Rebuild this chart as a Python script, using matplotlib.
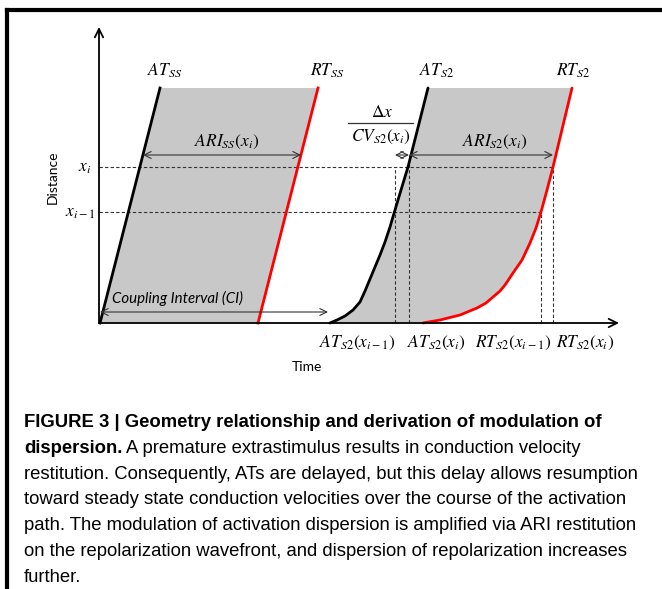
import numpy as np
import matplotlib.pyplot as plt
from matplotlib.lines import Line2D

# Diagram values (time, distance)
dist_ss = [0, 235]
at_ss = [1, 61]
rt_ss = [159, 219]

at_s2_time = [231, 238, 246, 254, 261, 266, 271, 276, 281, 286, 291, 296, 302, 309, 329]
at_s2_dist = [0, 3, 7, 13, 21, 32, 44, 56, 68, 81, 96, 113, 133, 156, 235]
rt_s2_time = [324, 341, 361, 378, 387, 394, 401, 406, 414, 423, 431, 437, 442,
              448, 454, 473]
rt_s2_dist = [0, 3, 8, 15, 20, 26, 32, 38, 50, 63, 80, 95, 111, 133, 156, 235]

x_i = 156
x_im1 = 111
ari_level = 168
ari_ss = [44, 202]
ari_s2 = [310, 454]
dx_cv = [296, 310]
ci = [1, 229]
ci_level = 11

# vertical guide lines: (time, top distance)
guides = [(296, x_i), (310, ari_level), (442, x_im1), (454, x_i)]

bottom_labels = [r'$AT_{S2}(x_{i-1})$', r'$AT_{S2}(x_i)$',
                 r'$RT_{S2}(x_{i-1})$', r'$RT_{S2}(x_i)$']
bottom_pos = [258, 337, 414, 486]

top_labels = [r'$AT_{SS}$', r'$RT_{SS}$', r'$AT_{S2}$', r'$RT_{S2}$']
top_pos = [66, 228, 338, 474]

caption = [
    "FIGURE 3 | Geometry relationship and derivation of modulation of",
    "A premature extrastimulus results in conduction velocity",
    "restitution. Consequently, ATs are delayed, but this delay allows resumption",
    "toward steady state conduction velocities over the course of the activation",
    "path. The modulation of activation dispersion is amplified via ARI restitution",
    "on the repolarization wavefront, and dispersion of repolarization increases",
    "further.",
]

plt.rcParams['mathtext.fontset'] = 'stix'

W, H = 662, 589
fig = plt.figure(figsize=(W / 100, H / 100), dpi=100)
ax = fig.add_axes([0, 0, 1, 1])
ox, oy = 99, 323
ax.set_xlim(-ox, W - ox)
ax.set_ylim(oy - H, oy)
ax.axis('off')

gray = '#c8c8c8'
dash = '#333333'

# shaded action potential regions
ax.fill(at_ss + rt_ss[::-1], dist_ss + dist_ss[::-1], color=gray, lw=0, zorder=1)
ax.fill(at_s2_time + rt_s2_time[::-1], at_s2_dist + rt_s2_dist[::-1],
        color=gray, lw=0, zorder=1)

# dashed guides
for lvl, end in [(x_i, 454), (x_im1, 442)]:
    ax.plot([0, end], [lvl, lvl], ls=(0, (3, 2)), color=dash, lw=0.8, zorder=2)
for t, top in guides:
    ax.plot([t, t], [0, top], ls=(0, (3, 2)), color=dash, lw=0.8, zorder=2)

# wavefronts
ax.plot(at_ss, dist_ss, color='black', lw=2, zorder=3)
ax.plot(rt_ss, dist_ss, color='red', lw=2, zorder=3)
ax.plot(at_s2_time, at_s2_dist, color='black', lw=2, zorder=3,
        solid_capstyle='round', solid_joinstyle='round')
ax.plot(rt_s2_time, rt_s2_dist, color='red', lw=2, zorder=3,
        solid_capstyle='round', solid_joinstyle='round')

# axes with arrows
axis_arrow = dict(arrowstyle='->,head_length=0.6,head_width=0.3', color='black',
                  lw=1.3, shrinkA=0, shrinkB=0)
ax.annotate('', xy=(0, 296), xytext=(0, 0), arrowprops=axis_arrow, zorder=4)
ax.annotate('', xy=(520, 0), xytext=(0, 0), arrowprops=axis_arrow, zorder=4)

# dimension arrows
dim_arrow = dict(arrowstyle='<->,head_length=0.5,head_width=0.25', color=dash,
                 lw=0.8, shrinkA=0, shrinkB=0)
ax.annotate('', xy=(ari_ss[1], ari_level), xytext=(ari_ss[0], ari_level),
            arrowprops=dim_arrow, zorder=4)
ax.annotate('', xy=(ari_s2[1], ari_level), xytext=(ari_s2[0], ari_level),
            arrowprops=dim_arrow, zorder=4)
ax.annotate('', xy=(dx_cv[1], ari_level), xytext=(dx_cv[0], ari_level),
            arrowprops=dim_arrow, zorder=4)
ax.annotate('', xy=(ci[1], ci_level), xytext=(ci[0], ci_level),
            arrowprops=dim_arrow, zorder=4)

# math labels
for lab, t in zip(top_labels, top_pos):
    ax.text(t, 252, lab, fontsize=12.5, ha='center', va='center')
for lab, t in zip(bottom_labels, bottom_pos):
    ax.text(t, -20, lab, fontsize=12.5, ha='center', va='center')
ax.text(128, 181, r'$ARI_{SS}(x_i)$', fontsize=12.5, ha='center', va='center')
ax.text(396, 181, r'$ARI_{S2}(x_i)$', fontsize=12.5, ha='center', va='center')
ax.text(283, 211, r'$\Delta x$', fontsize=12.5, ha='center', va='center')
ax.plot([249, 314], [200, 200], color='#333333', lw=0.9)
ax.text(282, 186, r'$CV_{S2}(x_i)$', fontsize=12.5, ha='center', va='center')
ax.text(-8, x_i, r'$x_i$', fontsize=12.5, ha='right', va='center')
ax.text(-4, x_im1, r'$x_{i-1}$', fontsize=12.5, ha='right', va='center')

ax.text(13, 25, 'Coupling Interval (CI)', fontsize=10.8, style='italic',
        family='Lato', ha='left', va='center')
ax.text(-46, 146, 'Distance', fontsize=10, family='Lato', rotation=90,
        ha='center', va='center')
ax.text(208, -44, 'Time', fontsize=10, family='Lato', ha='center', va='center')

# figure frame (top and left edges)
lw_frame = 3
fig.add_artist(Line2D([7 / W, 1], [1 - 10 / H, 1 - 10 / H], color='black',
                      lw=lw_frame, transform=fig.transFigure))
fig.add_artist(Line2D([7 / W, 7 / W], [0, 1 - 10 / H], color='black',
                      lw=lw_frame, transform=fig.transFigure))

# caption
cap_font = 'Liberation Sans'
cap_size = 13.3
x0 = 24
base = 427
step = 25.8
fig.text(x0 / W, 1 - base / H, caption[0], fontsize=cap_size, weight='bold',
         family=cap_font, va='baseline')
bold2 = fig.text(x0 / W, 1 - (base + step) / H, 'dispersion.', fontsize=cap_size,
                 weight='bold', family=cap_font, va='baseline')
fig.canvas.draw()
bb = bold2.get_window_extent()
fig.text((bb.x1 + 4) / W, 1 - (base + step) / H, caption[1], fontsize=cap_size,
         family=cap_font, va='baseline')
for k, line in enumerate(caption[2:], start=2):
    fig.text(x0 / W, 1 - (base + k * step) / H, line, fontsize=cap_size,
             family=cap_font, va='baseline')

fig.savefig('out.png', dpi=100)
